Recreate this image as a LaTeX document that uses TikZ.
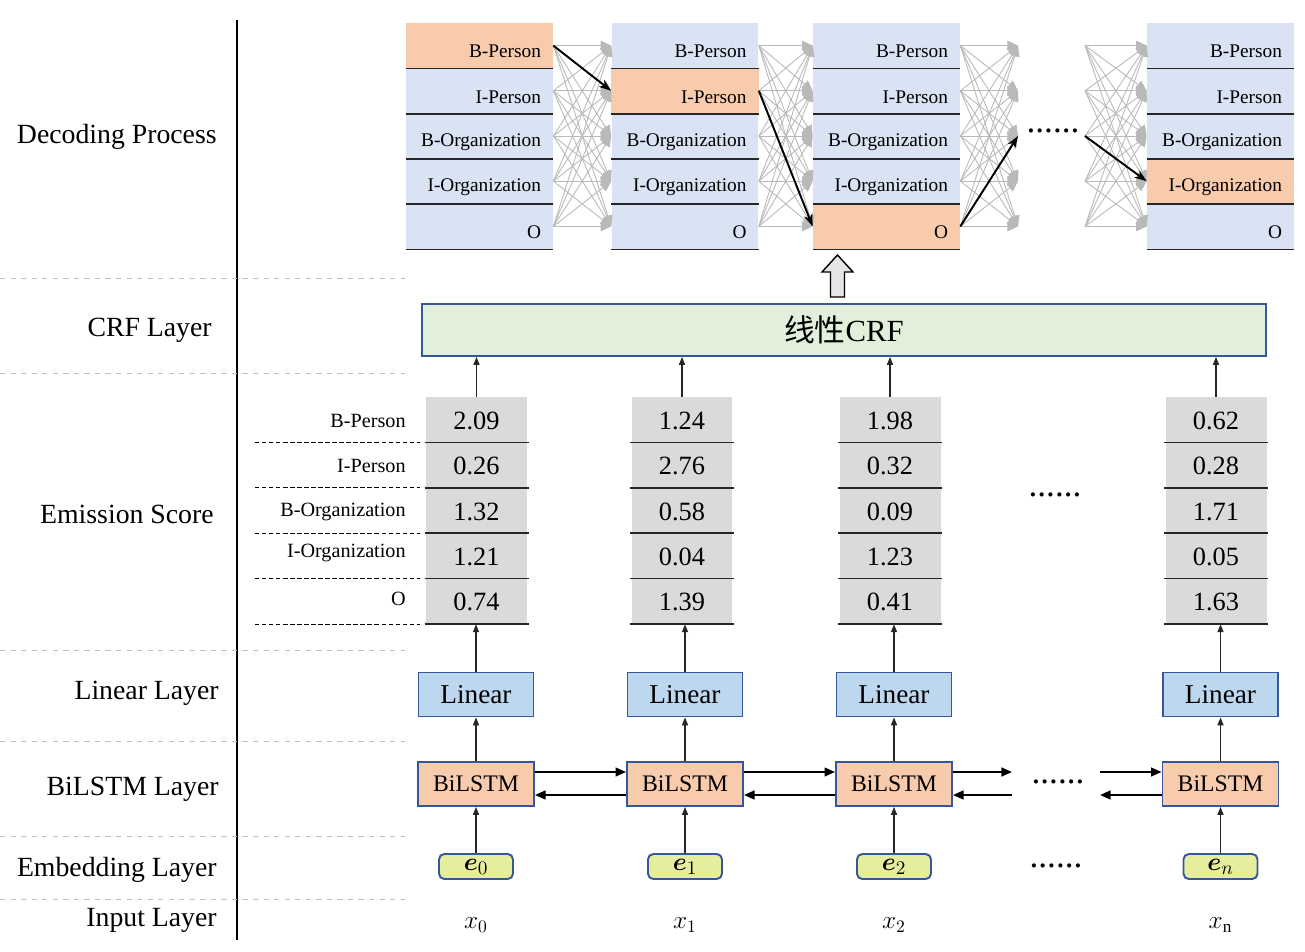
\documentclass[tikz,border=0pt]{standalone}
\usepackage{fontspec}
\setmainfont{Liberation Serif}
\newfontfamily\cjkfont{Noto Sans CJK SC}
\usepackage{bm}
\usetikzlibrary{arrows.meta}

\definecolor{tagblue}{HTML}{DAE3F3}
\definecolor{tagorange}{HTML}{F8CBAD}
\definecolor{linblue}{HTML}{BDD7EE}
\definecolor{crfgreen}{HTML}{E2EFDA}
\definecolor{embgreen}{HTML}{E6EE9E}
\definecolor{edgeblue}{HTML}{35589A}
\definecolor{scoregray}{HTML}{DADADA}

\tikzset{
    layername/.style={anchor=east,inner sep=0pt,font=\fontsize{15.8}{18}\selectfont},
    tagname/.style={anchor=east,inner sep=0pt,font=\fontsize{11}{13}\selectfont},
    tagcell/.style={minimum width=2.94cm,minimum height=0.904cm,inner sep=0pt},
    scoreval/.style={font=\fontsize{15}{18}\selectfont,inner sep=0pt},
    netbox/.style={draw=edgeblue,line width=1.1pt,inner sep=0pt,minimum height=0.88cm},
    upar/.style={-{Triangle[length=4.5pt,width=3.5pt]},line width=0.6pt,black!85},
    lstmar/.style={-{Triangle[length=6pt,width=5pt]},line width=1.1pt},
    fanar/.style={-{Triangle[length=6pt,width=5.5pt]},gray!55,line width=0.5pt},
    pathar/.style={-{Stealth[length=7pt,width=5pt]},line width=1.1pt},
    rowsep/.style={gray!50,dashed,line width=0.4pt},
    cellline/.style={line width=0.9pt,black!85},
    dots/.style={font=\fontsize{20}{20}\selectfont,inner sep=0pt}
}

\begin{document}
\begin{tikzpicture}[x=0.02cm,y=-0.02cm]
    \useasboundingbox (0,0) rectangle (1305,951);

    % layer names on the left
    \node[layername] (lDec) at (217,137) {Decoding Process};
    \node[layername] (lCrf) at (212,330) {CRF Layer};
    \node[layername] (lEmi) at (214,514) {Emission Score};
    \node[layername] (lLin) at (219,693) {Linear Layer};
    \node[layername] (lLstm) at (219,789) {BiLSTM Layer};
    \node[layername] (lEmb) at (217,870) {Embedding Layer};
    \node[layername] (lIn) at (217,920) {Input Layer};
    \draw[line width=1.2pt] (237,20) -- (237,940);
    \foreach \y in {278,373,650,741,836,899}
        \draw[rowsep] (0,\y) -- (405,\y);

    % decoding process
    \foreach \j in {0,...,4}
        \foreach \cx [count=\i from 0] in {479.5,685,886.5,1220.5}
            \node[tagcell,fill=tagblue] (d\i-\j) at (\cx,{45.6+45.2*\j}) {};
    \foreach \i/\j in {0/0,1/1,2/4,3/3}
        \fill[tagorange] (d\i-\j.south west) rectangle (d\i-\j.north east);
    \foreach \lab [count=\j from 0] in {B-Person,I-Person,B-Organization,I-Organization,O}
        \foreach \i in {0,...,3} {
            \draw[cellline] (d\i-\j.south west) -- (d\i-\j.south east);
            \node[tagname] (t\i-\j) at ([xshift=-0.24cm,yshift=-0.12cm]d\i-\j.east) {\lab};
        }
    \foreach \j in {0,...,4} {
        \coordinate (gapL-\j) at (1018,{45.6+45.2*\j});
        \coordinate (gapR-\j) at (1085,{45.6+45.2*\j});
    }
    \foreach \j in {0,...,4}
        \foreach \k in {0,...,4} {
            \draw[fanar] (d0-\j.east) -- (d1-\k.west);
            \draw[fanar] (d1-\j.east) -- (d2-\k.west);
            \draw[fanar] (d2-\j.east) -- (gapL-\k);
            \draw[fanar] (gapR-\j) -- (d3-\k.west);
        }
    \draw[pathar] (d0-0.east) -- (d1-1.west);
    \draw[pathar] (d1-1.east) -- (d2-4.west);
    \draw[pathar] (d2-4.east) -- (gapL-2);
    \draw[pathar] (gapR-2) -- (d3-3.west);
    \node[dots] (dDots) at (1053,131) {......};

    % hollow arrow
    \draw[fill=gray!20,line width=0.8pt] (830.5,297) -- (844.5,297) -- (844.5,272) -- (853,272)
        -- (837.5,255) -- (822,272) -- (830.5,272) -- cycle;

    % CRF
    \node[netbox,fill=crfgreen,minimum width=16.88cm,minimum height=1.04cm,
        font=\fontsize{17.5}{20}\selectfont] (crf) at (844,330) {{\cjkfont 线性}CRF};

    % emission score
    \foreach \lab/\y [count=\j from 0] in {B-Person/421,I-Person/466,B-Organization/512,I-Organization/553,O/599} {
        \node[tagname,font=\fontsize{11.5}{13}\selectfont] (sl-\j) at (406,\y) {\lab};
        \draw[dash pattern=on 2.5pt off 1.5pt,line width=0.5pt] (255,{442.4+45.4*\j}) -- (420,{442.4+45.4*\j});
    }
    \foreach \cx/\vals [count=\i from 0] in {476.5/{2.09,0.26,1.32,1.21,0.74},682/{1.24,2.76,0.58,0.04,1.39},
            890/{1.98,0.32,0.09,1.23,0.41},1216/{0.62,0.28,1.71,0.05,1.63}} {
        \node[fill=scoregray,minimum width=2.02cm,minimum height=4.54cm,inner sep=0pt] (sc\i) at (\cx,510.5) {};
        \foreach \val [count=\j from 0] in \vals {
            \node[scoreval] (s\i-\j) at (\cx,{420.7+45.4*\j}) {\val};
            \draw[cellline] (\cx-52,{442.4+45.4*\j}) -- (\cx+52,{442.4+45.4*\j});
        }
    }
    \node[dots] (eDots) at (1055,495) {......};

    % linear, bilstm, embedding, input
    \foreach \cx/\s/\t [count=\i from 0] in {476/0/0,685/1/1,894/2/2,1220.5/n/\mathrm{n}} {
        \node[netbox,fill=linblue,minimum width=2.3cm,font=\fontsize{15.5}{18}\selectfont] (lin\i) at (\cx,694.5) {Linear};
        \node[netbox,fill=tagorange,minimum width=2.32cm,font=\fontsize{13.5}{16}\selectfont] (lstm\i) at (\cx,784) {BiLSTM};
        \node[netbox,fill=embgreen,rounded corners=3pt,minimum width=1.48cm,minimum height=0.5cm,
            font=\fontsize{15}{16}\selectfont] (emb\i) at (\cx,866.5) {$\bm{e}_{\s}$};
        \node[font=\fontsize{14}{16}\selectfont] (x\i) at (\cx,925) {$x_{\t}$};
        \draw[upar] (emb\i.north) -- (lstm\i.south);
        \draw[upar] (lstm\i.north) -- (lin\i.south);
        \draw[upar] (lin\i.north) -- (lin\i.north |- sc\i.south);
        \draw[upar] (sc\i.north) -- (sc\i.north |- crf.south);
    }
    \foreach \i/\k in {0/1,1/2} {
        \draw[lstmar] ([yshift=0.24cm]lstm\i.east) -- ([yshift=0.24cm]lstm\k.west);
        \draw[lstmar] ([yshift=-0.22cm]lstm\k.west) -- ([yshift=-0.22cm]lstm\i.east);
    }
    \coordinate (gapA) at (1012,784);
    \coordinate (gapB) at (1100,784);
    \draw[lstmar] ([yshift=0.24cm]lstm2.east) -- ([yshift=0.24cm]gapA);
    \draw[lstmar] ([yshift=-0.22cm]gapA) -- ([yshift=-0.22cm]lstm2.east);
    \draw[lstmar] ([yshift=0.24cm]gapB) -- ([yshift=0.24cm]lstm3.west);
    \draw[lstmar] ([yshift=-0.22cm]lstm3.west) -- ([yshift=-0.22cm]gapB);
    \node[dots] (lDots) at (1058,782) {......};
    \node[dots] (mDots) at (1056,866) {......};
\end{tikzpicture}
\end{document}
